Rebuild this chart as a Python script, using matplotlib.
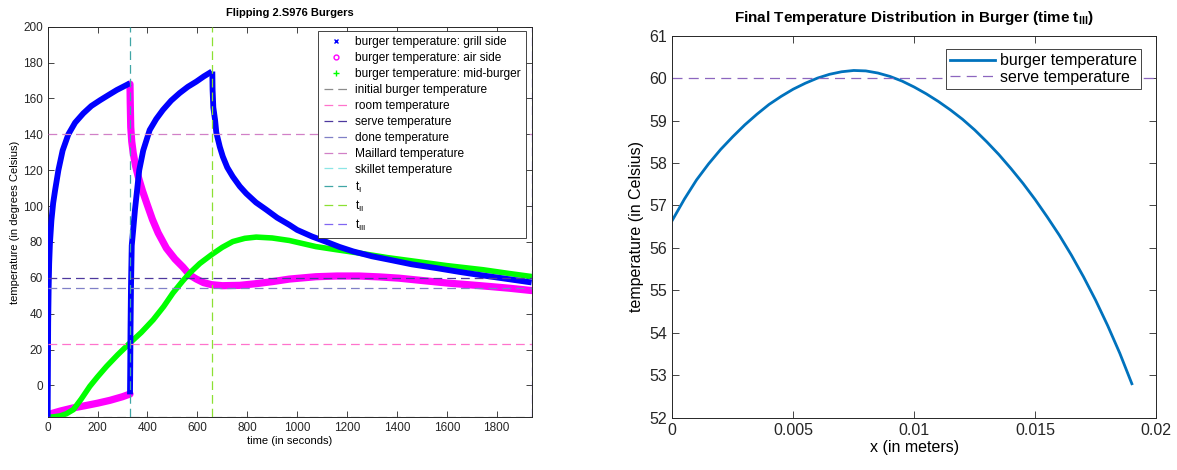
import matplotlib
matplotlib.use('Agg')
import matplotlib.pyplot as plt
from matplotlib.lines import Line2D
import numpy as np

plt.rcParams['font.family'] = ['Liberation Sans', 'DejaVu Sans']
plt.rcParams['axes.edgecolor'] = '#262626'
plt.rcParams['xtick.color'] = '#262626'
plt.rcParams['ytick.color'] = '#262626'

# Tiempos de volteo (s)
t_I = 330
t_II = 660
t_III = 1940

# Temperaturas de referencia (C)
temp_inicial = -17.78
temp_ambiente = 23
temp_servir = 60
temp_hecho = 54.4
temp_maillard = 140
temp_sarten = 204.4

# Lado de la parrilla, por tramos entre volteos
parrilla_t1 = [0, 1, 2, 4, 6, 9, 15, 22, 30, 43, 60, 83, 110, 143, 175, 210, 245, 277, 305, 330]
parrilla_T1 = [-17.8, 10, 35, 55, 68, 79, 92, 101.6, 109, 120, 131, 140, 146.5, 151.7, 155.8, 159,
               162, 164.7, 166.7, 168.5]
parrilla_t2 = [330, 331, 332, 334, 337, 343, 350, 357, 367, 383, 409, 435, 462, 495, 529, 562, 596,
               626, 658]
parrilla_T2 = [-5, 10, 30, 55, 78, 87, 98, 107, 120, 131, 142.4, 148.5, 153.6, 158.8, 163, 166.5,
               169.4, 172.3, 175]
parrilla_t3 = [660, 661, 664, 671, 676, 690, 702, 720, 742, 770, 796, 835, 876, 920, 969, 1000, 1060,
               1118, 1170, 1225, 1300, 1372, 1460, 1559, 1650, 1745, 1840, 1940]
parrilla_T3 = [175, 165, 155, 148, 141, 133, 127.6, 121.5, 116.4, 111, 107, 102, 98, 93.5, 89.5, 86.7,
               83, 80, 77.2, 74.7, 72, 70, 67.5, 65.4, 63.3, 61.3, 59.4, 57.4]

# Lado del aire
aire_t1 = [0, 5, 20, 50, 100, 150, 200, 250, 300, 330]
aire_T1 = [-17.8, -16.5, -15.5, -14.3, -12.6, -11.3, -9.9, -8.3, -6.3, -4.8]
aire_t2 = [330, 331, 333, 337, 343, 353, 363, 380, 397, 420, 443, 476, 510, 542, 570, 596, 625, 656,
           700, 770, 840, 902, 969, 1075, 1160, 1248, 1330, 1408, 1500, 1608, 1700, 1768, 1850, 1940]
aire_T2 = [168, 158, 144, 136, 129.5, 122, 116.4, 108.5, 101.6, 92.5, 85, 76.5, 70.5, 66, 61.5, 59.3,
           57.3, 56.2, 55.6, 55.8, 56.8, 57.9, 59.3, 60.6, 61, 61, 60.5, 59.8, 58.5, 57, 56, 55.2, 54.2,
           52.9]

# Centro de la hamburguesa
centro_t = [0, 25, 50, 75, 103, 135, 169, 200, 236, 280, 329, 375, 423, 465, 502, 540, 569, 610, 656,
            700, 742, 790, 836, 900, 969, 1075, 1160, 1248, 1360, 1478, 1600, 1745, 1850, 1940]
centro_T = [-17.8, -17.5, -17, -15.8, -13.5, -7.5, -0.5, 4.8, 10.6, 17, 23.6, 29.5, 36.6, 44, 51.5,
            58, 62.6, 68, 72.8, 77, 80.2, 82, 82.7, 82.2, 80.8, 77.4, 75.6, 73.8, 71.3, 69.1, 66.8,
            64.5, 62.4, 60.7]

# Distribucion final a lo largo del espesor
pos_x = [0, 0.0005, 0.001, 0.0015, 0.002, 0.0025, 0.003, 0.0035, 0.004, 0.0045, 0.005, 0.0055,
         0.006, 0.0065, 0.007, 0.0075, 0.008, 0.0085, 0.009, 0.0095, 0.01, 0.0105, 0.011, 0.0115,
         0.012, 0.0125, 0.013, 0.0135, 0.014, 0.0145, 0.015, 0.0155, 0.016, 0.0165, 0.017, 0.0175,
         0.018, 0.0185, 0.019]
temp_final = [56.65, 57.15, 57.6, 57.98, 58.32, 58.62, 58.9, 59.15, 59.38, 59.57, 59.74, 59.88,
              60.0, 60.09, 60.15, 60.18, 60.17, 60.12, 60.04, 59.93, 59.79, 59.63, 59.45, 59.25,
              59.03, 58.78, 58.5, 58.2, 57.87, 57.52, 57.14, 56.73, 56.3, 55.83, 55.32, 54.77,
              54.17, 53.52, 52.8]

fig = plt.figure(figsize=(11.77, 4.70), dpi=100)
ax1 = fig.add_axes([0.0405, 0.1121, 0.4112, 0.8311])
ax2 = fig.add_axes([0.5712, 0.1113, 0.4110, 0.8128])

AZUL = (0, 0, 1)
MAGENTA = (1, 0, 1)
VERDE = (0, 1, 0)
c_inicial = (0.55, 0.55, 0.55)
c_ambiente = (1.0, 0.45, 0.8)
c_servir = (0.3, 0.22, 0.62)
c_hecho = (0.5, 0.5, 0.78)
c_maillard = (0.82, 0.5, 0.78)
c_sarten = (0.55, 0.9, 0.9)
c_tI = (0.25, 0.65, 0.65)
c_tII = (0.55, 0.88, 0.2)
c_tIII = (0.5, 0.4, 0.95)

# Curvas de temperatura
for t, T in [(parrilla_t1, parrilla_T1), (parrilla_t2, parrilla_T2), (parrilla_t3, parrilla_T3)]:
    ax1.plot(t, T, color=AZUL, lw=4.2, solid_capstyle='butt', solid_joinstyle='round', zorder=3)
for t, T in [(aire_t1, aire_T1), (aire_t2, aire_T2)]:
    ax1.plot(t, T, color=MAGENTA, lw=5.2, solid_capstyle='round', solid_joinstyle='round', zorder=2)
ax1.plot(centro_t, centro_T, color=VERDE, lw=4.0, solid_capstyle='round', solid_joinstyle='round',
         zorder=2.5)

# Lineas de referencia
guion = (0, (7, 4))
h_lineas = [(temp_inicial, c_inicial), (temp_ambiente, c_ambiente), (temp_servir, c_servir),
            (temp_hecho, c_hecho), (temp_maillard, c_maillard), (temp_sarten, c_sarten)]
for y, c in h_lineas:
    ax1.axhline(y, color=c, lw=0.9, ls=guion, zorder=4)
for x, c in [(t_I, c_tI), (t_II, c_tII), (t_III, c_tIII)]:
    ax1.axvline(x, color=c, lw=0.9, ls=guion, zorder=4)

ax1.set_xlim(0, t_III)
ax1.set_ylim(temp_inicial, 200)
ax1.set_xticks(np.arange(0, 1801, 200))
ax1.set_yticks(np.arange(0, 201, 20))
ax1.tick_params(direction='in', top=True, right=True, labelsize=8.5, length=4, width=0.6)
ax1.set_title('Flipping 2.S976 Burgers', fontsize=8, fontweight='bold', pad=8)
ax1.set_xlabel('time (in seconds)', fontsize=8, labelpad=1)
ax1.set_ylabel('temperature (in degrees Celsius)', fontsize=8, labelpad=2)

manijas = [
    Line2D([], [], ls='none', marker='x', ms=3, mew=1, color=AZUL),
    Line2D([], [], ls='none', marker='o', ms=3.5, mfc='none', mew=1, color=MAGENTA),
    Line2D([], [], ls='none', marker='+', ms=4, mew=1, color=VERDE),
]
for c in [c_inicial, c_ambiente, c_servir, c_hecho, c_maillard, c_sarten, c_tI, c_tII, c_tIII]:
    manijas.append(Line2D([], [], color=c, lw=0.9, ls=guion))
etiquetas = ['burger temperature: grill side', 'burger temperature: air side',
             'burger temperature: mid-burger', 'initial burger temperature', 'room temperature',
             'serve temperature', 'done temperature', 'Maillard temperature', 'skillet temperature',
             r'$\mathregular{t_{I}}$', r'$\mathregular{t_{II}}$', r'$\mathregular{t_{III}}$']
leg = ax1.legend(manijas, etiquetas, loc='upper right', fontsize=8.6, frameon=True, fancybox=False,
                 edgecolor='#262626', framealpha=1, handlelength=2.0, handletextpad=0.6,
                 labelspacing=0.33, borderpad=0.45, bbox_to_anchor=(1.0, 1.005))
leg.get_frame().set_linewidth(0.6)

# Distribucion final
ax2.plot(pos_x, temp_final, color=(0, 0.447, 0.741), lw=2, label='burger temperature')
ax2.axhline(temp_servir, color=(0.55, 0.4, 0.75), lw=0.9, ls=(0, (8, 5)), label='serve temperature')
ax2.set_xlim(0, 0.02)
ax2.set_ylim(52, 61)
ax2.set_xticks([0, 0.005, 0.01, 0.015, 0.02])
ax2.set_xticklabels(['0', '0.005', '0.01', '0.015', '0.02'])
ax2.set_yticks(np.arange(52, 62, 1))
ax2.tick_params(direction='in', top=True, right=True, labelsize=11.5, length=5, width=0.6)
ax2.set_title(r'Final Temperature Distribution in Burger (time $\mathregular{t_{III}}$)',
              fontsize=11, fontweight='bold', pad=10)
ax2.set_xlabel('x (in meters)', fontsize=11.5, labelpad=2)
ax2.set_ylabel('temperature (in Celsius)', fontsize=11.5, labelpad=4)
leg2 = ax2.legend(loc='upper right', fontsize=11.5, frameon=True, fancybox=False, edgecolor='#262626',
                  framealpha=1, handlelength=2.8, handletextpad=0.3, labelspacing=0.1,
                  borderpad=0.25, bbox_to_anchor=(0.985, 0.985))
leg2.get_frame().set_linewidth(0.6)

for ax in (ax1, ax2):
    for s in ax.spines.values():
        s.set_linewidth(0.7)

fig.savefig('out.png', dpi=100)
